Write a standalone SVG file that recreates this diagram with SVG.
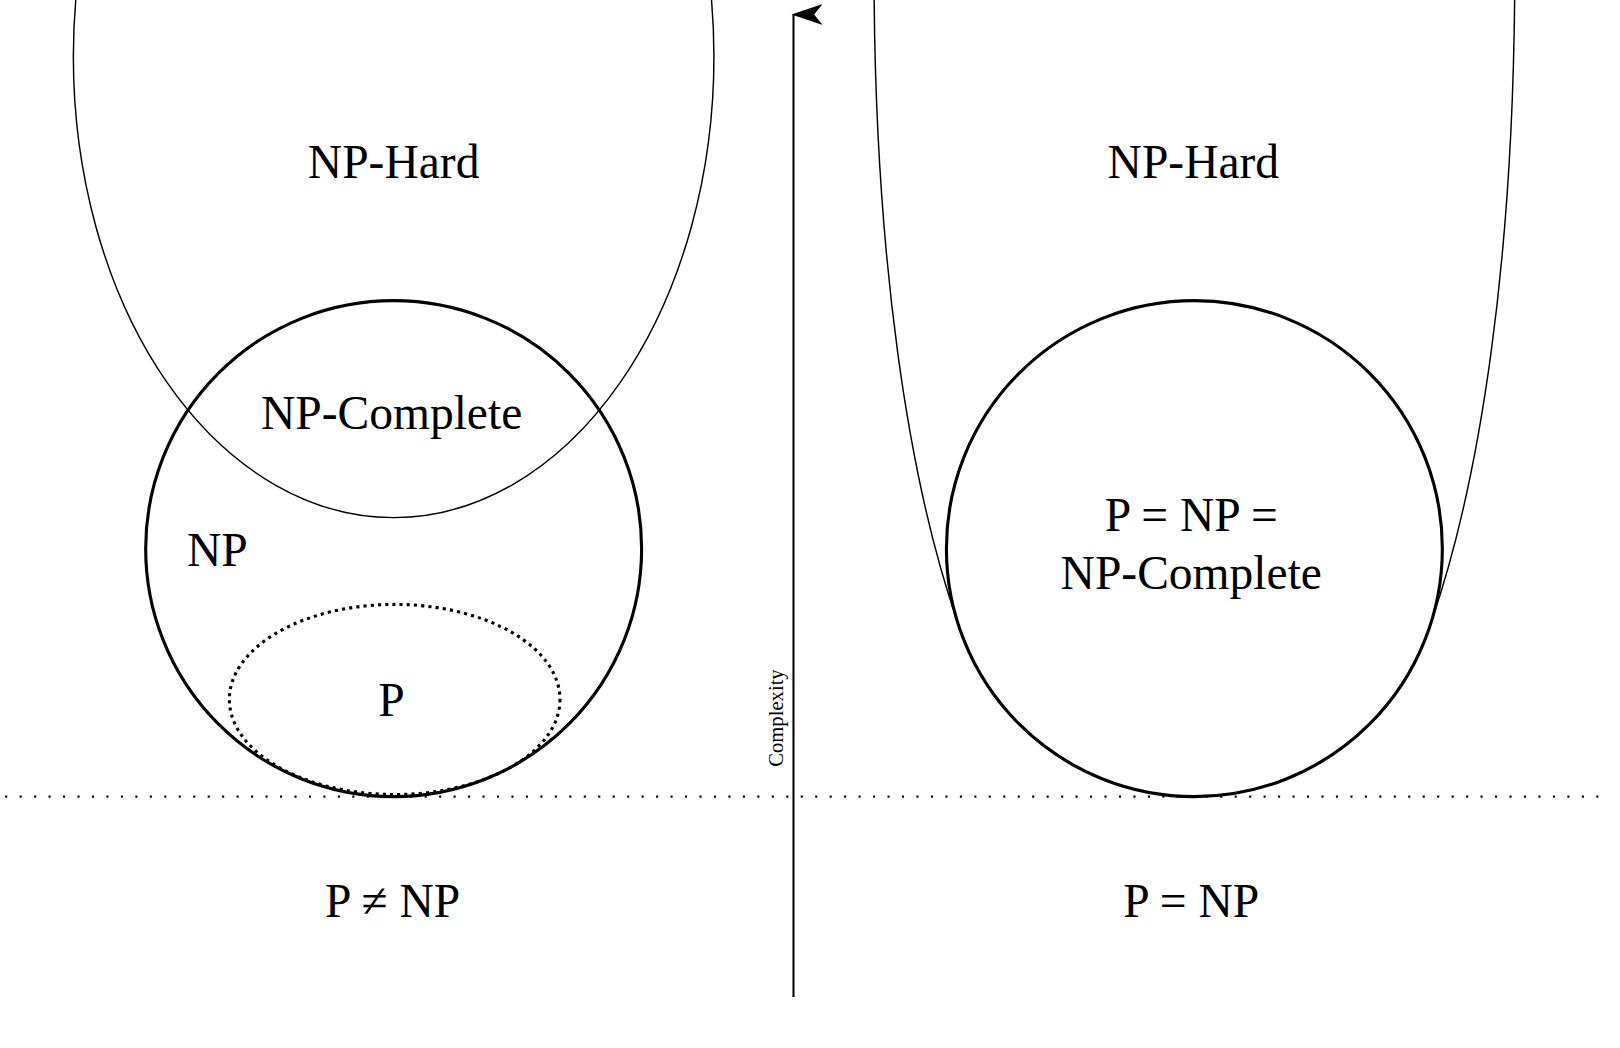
<svg xmlns="http://www.w3.org/2000/svg" width="1620" height="1048" viewBox="0 0 1620 1048">
<style>
.t{font-family:"Liberation Serif","Times New Roman",serif;font-size:46px;text-anchor:middle;fill:#000}
.np{fill:none;stroke:#000;stroke-width:3}
.hard{fill:none;stroke:#000;stroke-width:1.4}
</style>
<defs>
<marker id="ah" viewBox="0 0 20 30" refX="10" refY="2" markerWidth="20" markerHeight="30" markerUnits="userSpaceOnUse" orient="auto-start-reverse">
<path d="M10,0 L20,30 L10,22 L0,30 Z" fill="#000"/>
</marker>
</defs>
<rect width="1620" height="1048" fill="#fff"/>
<g transform="scale(1.0332)">
<g id="connectors">
<line x1="5" y1="771" x2="1548" y2="771" stroke="#000" stroke-width="2" stroke-dasharray="2,12"/>
<line x1="768" y1="965" x2="768" y2="14" stroke="#000" stroke-width="2" marker-end="url(#ah)"/>
<text x="0" y="0" transform="translate(758,695) rotate(-90)" style="font-family:'Liberation Serif',serif;font-size:20px;text-anchor:middle">Complexity</text>
</g>
<g id="left-nphard">
<ellipse class="hard" cx="381" cy="55" rx="310" ry="446"/>
<text class="t" x="381" y="172">NP-Hard</text>
</g>
<g id="left-np">
<circle class="np" cx="381" cy="531" r="240"/>
<text class="t" x="379" y="415">NP-Complete</text>
<text class="t" x="181" y="548" style="text-anchor:start">NP</text>
</g>
<g id="left-p">
<ellipse cx="382" cy="677" rx="160" ry="92" fill="none" stroke="#000" stroke-width="3" stroke-dasharray="3,4"/>
<text class="t" x="379" y="693">P</text>
</g>
<text class="t" x="380" y="888">P ≠ NP</text>
<g id="right-nphard">
<path class="hard" d="M846,-5 C848,250 878,460 926.1,600 A240,240 0 0 0 1385.9,600 C1434,460 1464,250 1466,-5"/>
<text class="t" x="1155" y="172">NP-Hard</text>
</g>
<g id="right-np">
<circle class="np" cx="1156" cy="531" r="240"/>
<text class="t" x="1153" y="514">P = NP =</text>
<text class="t" x="1153" y="570">NP-Complete</text>
</g>
<text class="t" x="1153" y="888">P = NP</text>
</g>
</svg>
